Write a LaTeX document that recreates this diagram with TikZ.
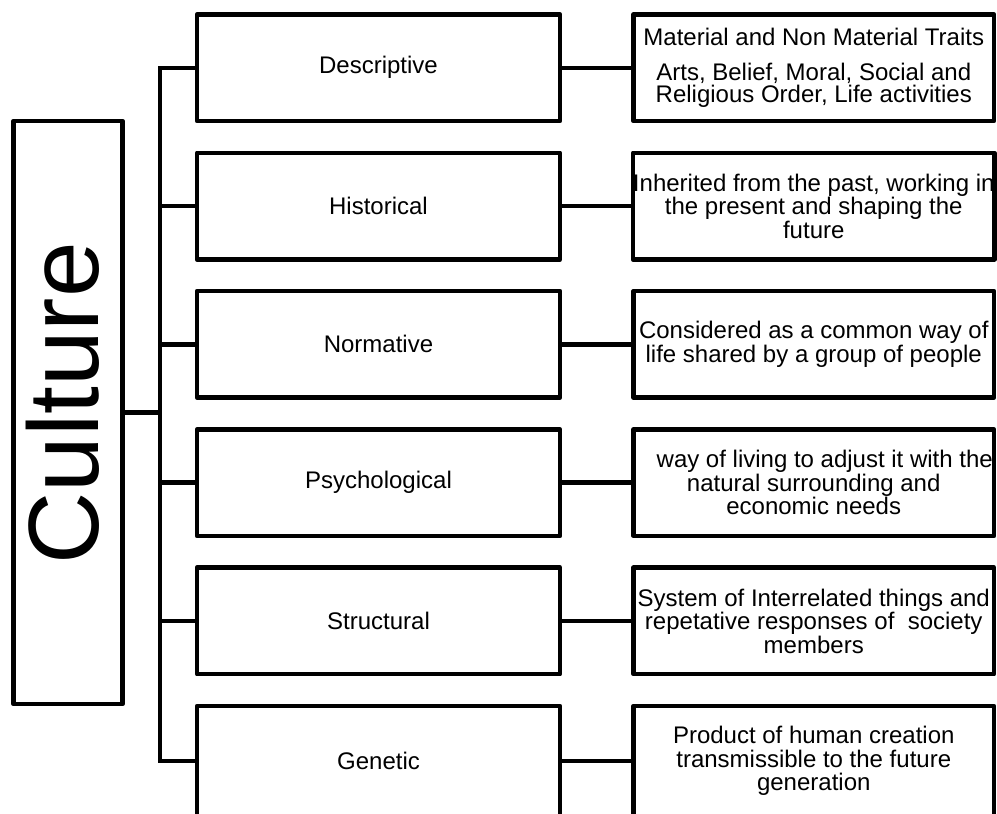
\documentclass[tikz,border=0pt]{standalone}
\usepackage{fontspec}
\setmainfont{Liberation Sans}
\begin{document}
\begin{tikzpicture}[x=1pt,y=-1pt,
  box/.style={draw, line width=4.5pt, line join=round, inner sep=0pt, align=center,
    font=\fontsize{24}{23.5}\selectfont},
  midbox/.style={box, minimum width=363pt, minimum height=106.5pt},
  descbox/.style={box, minimum width=360.5pt, minimum height=106.5pt},
  lastbox/.style={minimum height=110pt},
  link/.style={line width=4.5pt, line join=miter}]
\useasboundingbox (0,0) rectangle (997,814);

% root
\node[draw, line width=4.5pt, line join=round, inner sep=0pt,
      minimum width=109pt, minimum height=583pt] (c) at (68,412.5) {};
\node[rotate=90, inner sep=0pt, font=\fontsize{100}{100}\selectfont] (ct) at (63,403.5) {Culture};

% middle boxes
\node[midbox] (m1) at (378.5,67.75)  {Descriptive};
\node[midbox] (m2) at (378.5,206.05) {Historical};
\node[midbox] (m3) at (378.5,344.35) {Normative};
\node[midbox] (m4) at (378.5,482.65) {Psychological};
\node[midbox] (m5) at (378.5,620.95) {Structural};
\node[midbox, lastbox] (m6) at (378.5,761) {Genetic};

% right boxes
\node[descbox] (r1) at (813.75,67.75)
  {Material and Non Material Traits\\[11pt]Arts, Belief, Moral, Social and\\[-1.5pt]Religious Order, Life activities};
\node[descbox] (r2) at (813.75,206.05)
  {Inherited from the past, working in\\the present and shaping the\\future};
\node[descbox] (r3) at (813.75,344.35)
  {Considered as a common way of\\life shared by a group of people};
\node[descbox] (r4) at (813.75,482.65)
  {\hspace*{22pt}way of living to adjust it with the\\natural surrounding and\\economic needs};
\node[descbox] (r5) at (813.75,620.95)
  {System of Interrelated things and\\repetative responses of \ society\\members};
\node[descbox, lastbox] (r6) at (813.75,761)
  {Product of human creation\\transmissible to the future\\generation};

% bus
\coordinate (bx) at (160,0);
\draw[link] (m1.west) -- (m1.west -| bx) -- (m6.west -| bx) -- (m6.west);
\foreach \i in {2,3,4,5} { \draw[link] (m\i.west -| bx) -- (m\i.west); }
\draw[link] (c.east) -- (c.east -| bx);

% middle to right
\foreach \i in {1,...,6} { \draw[link] (m\i.east) -- (r\i.west); }
\end{tikzpicture}
\end{document}
